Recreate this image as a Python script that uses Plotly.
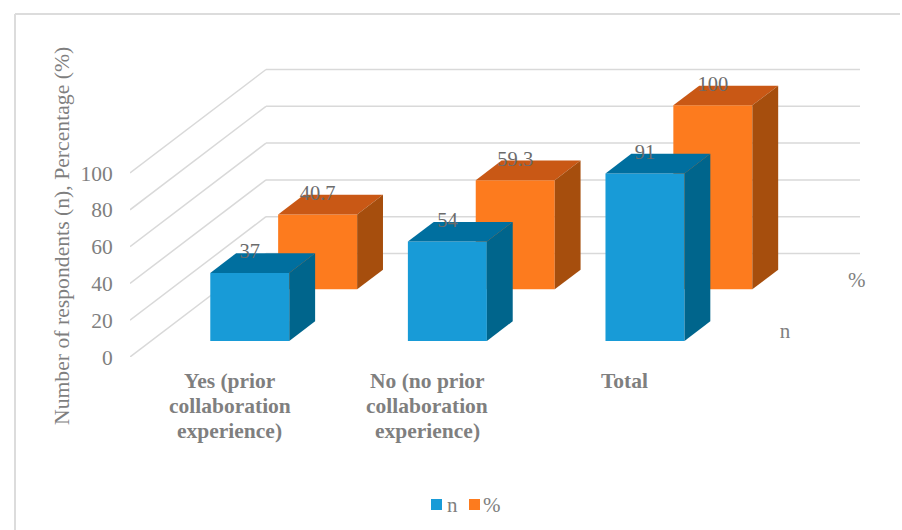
import plotly.graph_objects as go

# Survey results
category_lines = [["Yes (prior", "collaboration", "experience)"],
                  ["No (no prior", "collaboration", "experience)"],
                  ["Total"]]
series_names = ["n", "%"]
n_values = [37, 54, 91]
pct_values = [40.7, 59.3, 100]
y_ticks = [0, 20, 40, 60, 80, 100]

# Oblique projection of the chart box onto the plane
PX_PER_CAT = 197.6
PX_PER_VAL = 1.84
DEPTH_X = 136 / PX_PER_CAT
DEPTH_Y = 103.5 / PX_PER_VAL
LEFT, TOP, RIGHT, BOTTOM = 130, 40, 870, 357
X_MIN = (LEFT - 228.7) / PX_PER_CAT
X_MAX = X_MIN + (RIGHT - LEFT) / PX_PER_CAT
Y_MAX = (BOTTOM - TOP) / PX_PER_VAL
WALL_RIGHT = X_MIN + (860 - LEFT) / PX_PER_CAT

BAR_WIDTH = 79 / PX_PER_CAT
BAR_DEPTH = 0.19
ROW_DEPTH = {"n": 0.155, "%": 0.654}
DEPTH_LABEL_GAP = {"n": 27, "%": 31}
COLORS = {"n": ("#189BD7", "#006F9F", "#00658C"),
          "%": ("#FD7B1E", "#C95815", "#A64E0D")}
GRID = "#D9D9D9"
TEXT = "#7F7F7F"
LABEL = "#6B6B6B"
FONT = "Liberation Serif"


def project(x, value, depth):
    return x + depth * DEPTH_X, value + depth * DEPTH_Y


def paper_x(px):
    return (px - LEFT) / (RIGHT - LEFT)


def paper_y(py):
    return (BOTTOM - py) / (BOTTOM - TOP)


fig = go.Figure()


def add_face(points, color):
    fig.add_trace(go.Scatter(
        x=[p[0] for p in points] + [points[0][0]],
        y=[p[1] for p in points] + [points[0][1]],
        mode="lines", fill="toself", fillcolor=color,
        line=dict(width=0), hoverinfo="skip", showlegend=False))


def add_series(name, values):
    front, top, side = COLORS[name]
    d0 = ROW_DEPTH[name]
    centers = [project(i, 0, d0)[0] for i in range(len(values))]
    base = project(0, 0, d0)[1]
    fig.add_trace(go.Bar(
        x=centers, y=values, base=base, width=BAR_WIDTH,
        name=name, marker=dict(color=front, line=dict(width=0)),
        showlegend=False))
    back = BAR_DEPTH * DEPTH_X
    rise = BAR_DEPTH * DEPTH_Y
    for cx, v in zip(centers, values):
        xl, xr = cx - BAR_WIDTH / 2, cx + BAR_WIDTH / 2
        add_face([(xl, base + v), (xr, base + v),
                  (xr + back, base + v + rise), (xl + back, base + v + rise)], top)
        add_face([(xr, base), (xr + back, base + rise),
                  (xr + back, base + v + rise), (xr, base + v)], side)


# Rear series first so the front row overlaps it
add_series("%", pct_values)
add_series("n", n_values)

# Value labels straddling each bar's back edge
for name, values in (("%", pct_values), ("n", n_values)):
    d0 = ROW_DEPTH[name]
    xs, ys, texts = [], [], []
    for i, v in enumerate(values):
        xs.append(project(i, v, d0)[0])
        ys.append(project(i, v, d0 + BAR_DEPTH)[1])
        texts.append(f"{v:g}")
    fig.add_trace(go.Scatter(
        x=xs, y=ys, text=texts, mode="text", textposition="middle center",
        textfont=dict(family=FONT, size=20.5, color=LABEL),
        hoverinfo="skip", showlegend=False))

# Series labels along the depth axis
depth_x, depth_y, depth_text = [], [], []
for name in series_names:
    d = ROW_DEPTH[name] + BAR_DEPTH / 2
    px, py = project(WALL_RIGHT - DEPTH_X, 0, d)
    depth_x.append(px + DEPTH_LABEL_GAP[name] / PX_PER_CAT)
    depth_y.append(py - 2 / PX_PER_VAL)
    depth_text.append(name)
fig.add_trace(go.Scatter(
    x=depth_x, y=depth_y, text=depth_text, mode="text",
    textposition="middle center",
    textfont=dict(family=FONT, size=21, color=TEXT),
    hoverinfo="skip", showlegend=False))

# Gridlines running along the side wall and the back wall
shapes = []
for t in y_ticks:
    bx, by = project(X_MIN, t, 1)
    for x0, y0, x1, y1 in ((X_MIN, t, bx, by), (bx, by, WALL_RIGHT, by)):
        shapes.append(dict(type="line", xref="x", yref="y", layer="below",
                           x0=x0, y0=y0, x1=x1, y1=y1,
                           line=dict(color=GRID, width=1.5)))

# Outer chart frame
frame = dict(color="#DCDCDC", width=2)
for x0, y0, x1, y1 in ((15, 14, 900, 14), (15, 14, 15, 530)):
    shapes.append(dict(type="line", xref="paper", yref="paper", layer="below",
                       x0=paper_x(x0), x1=paper_x(x1),
                       y0=paper_y(y0), y1=paper_y(y1), line=frame))

annotations = []

# Category labels below the floor, set line by line for tight leading
for i, lines in enumerate(category_lines):
    for row, line in enumerate(lines):
        annotations.append(dict(text=f"<b>{line}</b>", xref="x", yref="paper",
                                x=i + 0.006 if len(lines) > 1 else i + 0.002,
                                y=paper_y(381 + 25 * row),
                                showarrow=False, xanchor="center", yanchor="middle",
                                font=dict(family=FONT, size=21.5, color=TEXT)))

# Compact legend at the foot of the chart
for name, sx, tx in (("n", 431, 452), ("%", 469, 492)):
    shapes.append(dict(type="rect", xref="paper", yref="paper",
                       x0=paper_x(sx), x1=paper_x(sx + 11),
                       y0=paper_y(510), y1=paper_y(499),
                       fillcolor=COLORS[name][0], line=dict(width=0)))
    annotations.append(dict(text=name, xref="paper", yref="paper", showarrow=False,
                            x=paper_x(tx), y=paper_y(505),
                            xanchor="center", yanchor="middle",
                            font=dict(family=FONT, size=21, color=TEXT)))

annotations.append(dict(text="Number of respondents (n), Percentage (%)",
                        xref="paper", yref="paper", showarrow=False, textangle=-90,
                        x=paper_x(62), y=paper_y(236),
                        xanchor="center", yanchor="middle",
                        font=dict(family=FONT, size=21.7, color=TEXT)))

fig.update_layout(
    width=902, height=530, autosize=False,
    margin=dict(l=LEFT, r=902 - RIGHT, t=TOP, b=530 - BOTTOM, pad=0),
    paper_bgcolor="white", plot_bgcolor="rgba(0,0,0,0)",
    barmode="overlay", showlegend=False,
    shapes=shapes, annotations=annotations,
    xaxis=dict(range=[X_MIN, X_MAX], showgrid=False, zeroline=False, showline=False,
               showticklabels=False, ticks=""),
    yaxis=dict(range=[0, Y_MAX], showgrid=False, zeroline=False, showline=False,
               tickmode="array", tickvals=y_ticks,
               ticks="outside", ticklen=12, tickcolor="rgba(0,0,0,0)",
               tickfont=dict(family=FONT, size=21.5, color=TEXT)),
)

fig.write_html("out.html")
